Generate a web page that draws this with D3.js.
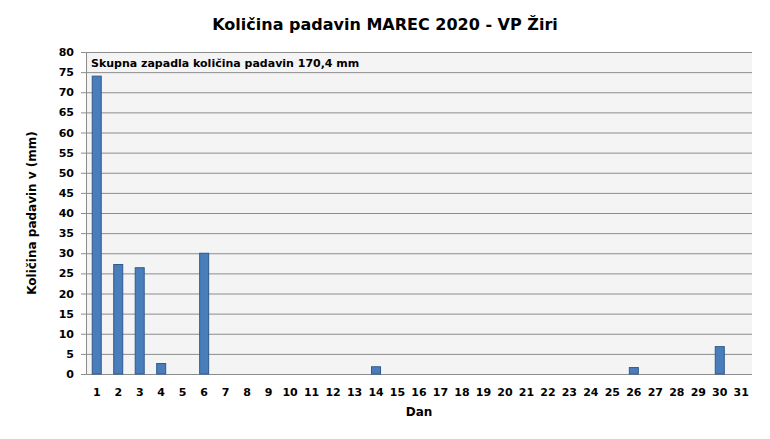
<!DOCTYPE html><html><head><meta charset="utf-8"><script src="https://d3js.org/d3.v7.min.js"></script>
<style>body{margin:0;background:#fff}text{font-family:"DejaVu Sans",sans-serif;font-weight:bold}</style></head><body>
<svg id="c" width="770" height="439"></svg>
<script>
const days = d3.range(1,32).map(String);
const values = [74.0,27.2,26.4,2.6,0,30.0,0,0,0,0,0,0,0,1.8,0,0,0,0,0,0,0,0,0,0,0,1.6,0,0,0,6.8,0];
const yTicks = d3.range(0,81,5);
const title = "Količina  padavin  MAREC 2020 - VP Žiri";
const note = "Skupna zapadla količina padavin 170,4 mm";
const svg = d3.select("#c");
const L=86,R=752,T=52,B=374;
const x = d3.scaleBand().domain(days).range([L,R]);
const y = d3.scaleLinear().domain([0,80]).range([B,T]);
svg.append("rect").attr("x",L).attr("y",T).attr("width",R-L).attr("height",B-T).attr("fill","#f4f4f4");
svg.append("g").selectAll("line").data(yTicks).join("line")
 .attr("x1",L-5).attr("x2",R).attr("y1",d=>y(d)+0.5).attr("y2",d=>y(d)+0.5).attr("stroke","#8c8c8c");
svg.append("line").attr("x1",L+0.5).attr("x2",L+0.5).attr("y1",T).attr("y2",B).attr("stroke","#8c8c8c");
svg.append("g").selectAll("text").data(yTicks).join("text").attr("x",L-12).attr("y",d=>y(d)+4)
 .attr("text-anchor","end").attr("font-size",11).text(d=>d);
svg.append("g").selectAll("rect").data(values).join("rect")
 .attr("x",(d,i)=>x(days[i])+x.bandwidth()/2-4.5).attr("width",9)
 .attr("y",d=>y(d)).attr("height",d=>B-y(d)).attr("fill","#4a7ebb").attr("stroke","#2f5a8e").attr("stroke-width",1)
 .style("display",d=>d>0?null:"none");
svg.append("g").selectAll("text").data(days).join("text").attr("x",d=>x(d)+x.bandwidth()/2).attr("y",396)
 .attr("text-anchor","middle").attr("font-size",11).text(d=>d);
svg.append("text").attr("x",385).attr("y",30).attr("text-anchor","middle").attr("font-size",16).text(title);
svg.append("text").attr("x",91).attr("y",67).attr("font-size",11).text(note);
svg.append("text").attr("x",419).attr("y",416).attr("text-anchor","middle").attr("font-size",12).text("Dan");
svg.append("text").attr("transform","translate(36,213) rotate(-90)").attr("text-anchor","middle").attr("font-size",12).text("Količina padavin v  (mm)");
</script></body></html>
